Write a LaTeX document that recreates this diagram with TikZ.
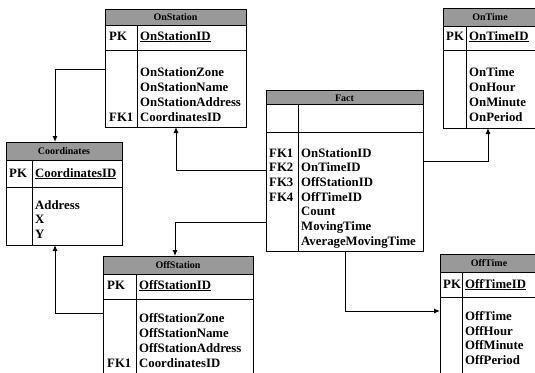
\documentclass[tikz,border=0pt]{standalone}
\usepackage{fontspec}
\setmainfont{Liberation Serif}
\usetikzlibrary{arrows.meta}
\tikzset{
  x=1pt, y=-1pt,
  tbl/.style={draw, line width=0.8pt, inner sep=0pt, outer sep=0pt, anchor=north west},
  ln/.style={line width=0.8pt},
  hdrfill/.style={fill=black!40},
  hd/.style={font=\fontsize{10}{12}\selectfont\bfseries, inner sep=0pt, anchor=base},
  fld/.style={font=\fontsize{12.8}{15}\selectfont\bfseries, inner sep=0pt, anchor=base west},
  conn/.style={line width=1pt, -{Latex[length=6pt,width=5pt]}}
}
% #1 name, #2 left, #3 top, #4 right, #5 bottom, #6 header bottom, #7 pk separator, #8 column
\newcommand\erbox[8]{%
  \fill[hdrfill] (#2,#3) rectangle (#4,#6);
  \node[tbl, minimum width={(#4-#2)*1pt}, minimum height={(#5-#3)*1pt}] (#1) at (#2,#3) {};
  \draw[ln] (#2,#6) -- (#4,#6) (#2,#7) -- (#4,#7) (#8,#6) -- (#8,#5);
}
\begin{document}
\begin{tikzpicture}
\useasboundingbox (0,0) rectangle (535,372);
\clip (0,0) rectangle (535,372);
\fill[white] (0,0) rectangle (535,372);

% OnStation
\erbox{onst}{105}{9}{246}{127}{25}{50}{137}
\node[hd] (onst-h) at (175.5,20.5) {OnStation};
\node[fld] (onst-pk) at (109,40) {PK};
\node[fld] (onst-id) at (140,40) {\underline{OnStationID}};
\node[fld] (onst-f1) at (140,76) {OnStationZone};
\node[fld] (onst-f2) at (140,91) {OnStationName};
\node[fld] (onst-f3) at (140,106) {OnStationAddress};
\node[fld] (onst-fk) at (109,121) {FK1};
\node[fld] (onst-f4) at (140,121) {CoordinatesID};

% OnTime
\erbox{ontime}{443}{8}{537}{128}{26}{50}{466}
\node[hd] (ontime-h) at (490,20.5) {OnTime};
\node[fld] (ontime-pk) at (446,40) {PK};
\node[fld] (ontime-id) at (469,40) {\underline{OnTimeID}};
\node[fld] (ontime-f1) at (469,76) {OnTime};
\node[fld] (ontime-f2) at (469,91) {OnHour};
\node[fld] (ontime-f3) at (469,106) {OnMinute};
\node[fld] (ontime-f4) at (469,121) {OnPeriod};

% Coordinates
\erbox{coord}{6}{142}{122}{245}{160}{187}{32}
\node[hd] (coord-h) at (64,154.5) {Coordinates};
\node[fld] (coord-pk) at (9,177) {PK};
\node[fld] (coord-id) at (35,177) {\underline{CoordinatesID}};
\node[fld] (coord-f1) at (35,209) {Address};
\node[fld] (coord-f2) at (35,223.5) {X};
\node[fld] (coord-f3) at (35,238) {Y};

% Fact
\erbox{fact}{266}{90}{423}{251}{104}{132}{298}
\node[hd] (fact-h) at (344.5,101) {Fact};
\node[fld] (fact-k1) at (269,157) {FK1};
\node[fld] (fact-k2) at (269,171.7) {FK2};
\node[fld] (fact-k3) at (269,186.4) {FK3};
\node[fld] (fact-k4) at (269,201.1) {FK4};
\node[fld] (fact-f1) at (301,157) {OnStationID};
\node[fld] (fact-f2) at (301,171.7) {OnTimeID};
\node[fld] (fact-f3) at (301,186.4) {OffStationID};
\node[fld] (fact-f4) at (301,201.1) {OffTimeID};
\node[fld] (fact-f5) at (301,215.8) {Count};
\node[fld] (fact-f6) at (301,230.5) {MovingTime};
\node[fld] (fact-f7) at (301,245.2) {AverageMovingTime};

% OffStation
\erbox{offst}{103}{256}{253}{385}{274}{299}{136}
\node[hd] (offst-h) at (178,268.5) {OffStation};
\node[fld] (offst-pk) at (107,289) {PK};
\node[fld] (offst-id) at (139,289) {\underline{OffStationID}};
\node[fld] (offst-f1) at (139,322) {OffStationZone};
\node[fld] (offst-f2) at (139,337) {OffStationName};
\node[fld] (offst-f3) at (139,352) {OffStationAddress};
\node[fld] (offst-fk) at (107,367) {FK1};
\node[fld] (offst-f4) at (139,367) {CoordinatesID};

% OffTime
\erbox{offtime}{440}{254}{537}{385}{272}{297}{462}
\node[hd] (offtime-h) at (489,266.5) {OffTime};
\node[fld] (offtime-pk) at (443,288) {PK};
\node[fld] (offtime-id) at (465,288) {\underline{OffTimeID}};
\node[fld] (offtime-f1) at (465,320) {OffTime};
\node[fld] (offtime-f2) at (465,335) {OffHour};
\node[fld] (offtime-f3) at (465,349.5) {OffMinute};
\node[fld] (offtime-f4) at (465,364) {OffPeriod};

% connectors
\draw[conn] (onst.west |- 0,69) -| (coord.north -| 55,0);
\draw[conn] (offst.west |- 0,313) -| (coord.south -| 55,0);
\draw[conn] (fact.west |- 0,170) -| (onst.south -| 176,0);
\draw[conn] (fact.west |- 0,222) -| (offst.north -| 175,0);
\draw[conn] (fact.east |- 0,161) -| (ontime.south -| 488,0);
\draw[conn] (fact.south -| 345,0) |- (offtime.west |- 0,311);
\end{tikzpicture}
\end{document}
